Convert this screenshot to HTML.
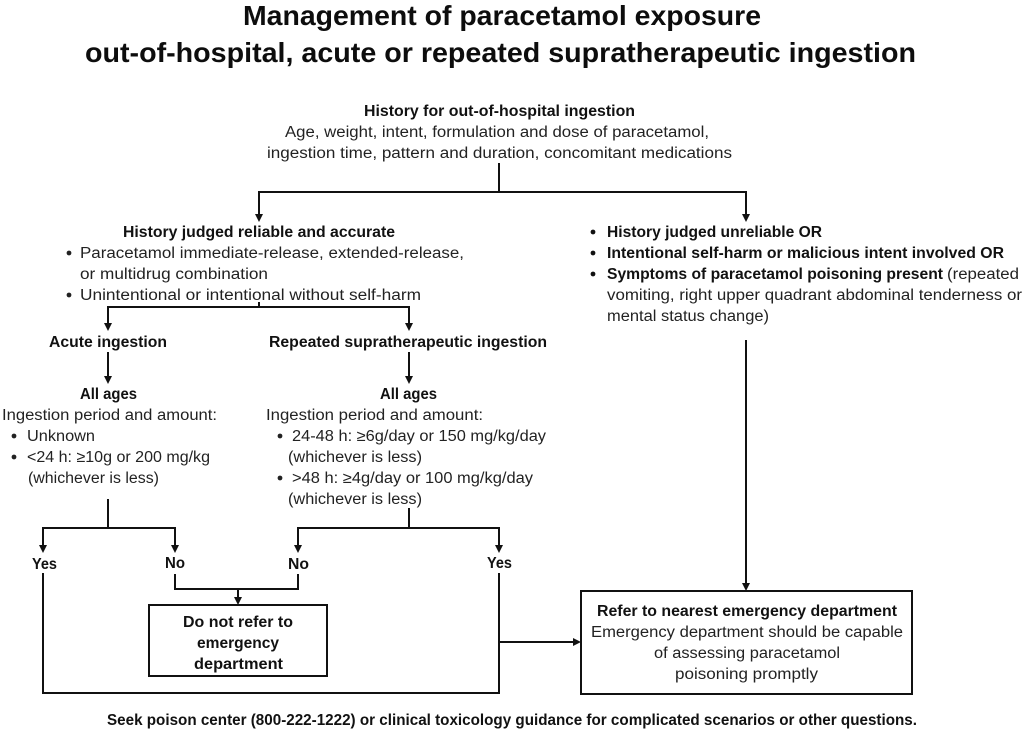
<!DOCTYPE html>
<html>
<head>
<meta charset="utf-8">
<style>
  html,body{margin:0;padding:0;background:#fff;}
  svg{display:block;}
  text{font-family:"Liberation Sans",Arial,sans-serif;fill:#161616;}
  .t{font-size:28px;font-weight:bold;fill:#0d0d0d;}
  .r{font-size:15.5px;fill:#222;}
  .bb{font-size:15.5px;font-weight:bold;fill:#111;}
</style>
</head>
<body>
<svg width="1024" height="732" viewBox="0 0 1024 732" xmlns="http://www.w3.org/2000/svg">
  <rect width="1024" height="732" fill="#fff"/>

  <!-- Title -->
  <text class="t" x="243" y="25" textLength="518" lengthAdjust="spacingAndGlyphs">Management of paracetamol exposure</text>
  <text class="t" x="85" y="62" textLength="831" lengthAdjust="spacingAndGlyphs">out-of-hospital, acute or repeated supratherapeutic ingestion</text>

  <!-- Top history -->
  <text class="bb" x="364" y="116" textLength="271" lengthAdjust="spacingAndGlyphs">History for out-of-hospital ingestion</text>
  <text class="r" x="285" y="137" textLength="424" lengthAdjust="spacingAndGlyphs">Age, weight, intent, formulation and dose of paracetamol,</text>
  <text class="r" x="267" y="158" textLength="465" lengthAdjust="spacingAndGlyphs">ingestion time, pattern and duration, concomitant medications</text>

  <!-- Connectors -->
  <g stroke="#111" stroke-width="2" fill="none" stroke-linecap="square">
    <path d="M499 164 V192 M259 192 H746 M259 192 V215 M746 192 V215"/>
    <path d="M259 303 V307 M108 307 H409 M108 307 V324 M409 307 V324"/>
    <path d="M108 353 V376 M409 353 V376"/>
    <path d="M108 500 V528 M43 528 H175 M43 528 V546 M175 528 V546"/>
    <path d="M409 509 V528 M298 528 H499 M298 528 V546 M499 528 V546"/>
    <path d="M43 574 V693 H499 V574"/>
    <path d="M499 642 H574"/>
    <path d="M175 575 V589 H298 V575 M238 589 V598"/>
    <path d="M746 341 V584"/>
  </g>
  <g fill="#111">
    <polygon points="259,222 255,214 263,214"/>
    <polygon points="746,222 742,214 750,214"/>
    <polygon points="108,331 104,323 112,323"/>
    <polygon points="409,331 405,323 413,323"/>
    <polygon points="108,384 104,376 112,376"/>
    <polygon points="409,384 405,376 413,376"/>
    <polygon points="43,553 39,545 47,545"/>
    <polygon points="175,553 171,545 179,545"/>
    <polygon points="298,553 294,545 302,545"/>
    <polygon points="499,553 495,545 503,545"/>
    <polygon points="238,605 234,597 242,597"/>
    <polygon points="581,642 573,638 573,646"/>
    <polygon points="746,591 742,583 750,583"/>
  </g>

  <!-- Left reliable block -->
  <text class="bb" x="123" y="237" textLength="272" lengthAdjust="spacingAndGlyphs">History judged reliable and accurate</text>
  <circle cx="69" cy="253" r="2.4" fill="#222"/>
  <text class="r" x="80" y="258" textLength="384" lengthAdjust="spacingAndGlyphs">Paracetamol  immediate-release,  extended-release,</text>
  <text class="r" x="80" y="279" textLength="188" lengthAdjust="spacingAndGlyphs">or multidrug combination</text>
  <circle cx="69" cy="295" r="2.4" fill="#222"/>
  <text class="r" x="80" y="300" textLength="341" lengthAdjust="spacingAndGlyphs">Unintentional or intentional without self-harm</text>

  <!-- Right unreliable block -->
  <circle cx="593" cy="232" r="2.4" fill="#111"/>
  <text class="bb" x="607" y="237" textLength="215" lengthAdjust="spacingAndGlyphs">History judged unreliable OR</text>
  <circle cx="593" cy="253" r="2.4" fill="#111"/>
  <text class="bb" x="607" y="258" textLength="397" lengthAdjust="spacingAndGlyphs">Intentional self-harm or malicious intent involved OR</text>
  <circle cx="593" cy="274" r="2.4" fill="#111"/>
  <text class="bb" x="607" y="279" textLength="336" lengthAdjust="spacingAndGlyphs">Symptoms of paracetamol poisoning present</text>
  <text class="r" x="947" y="279" textLength="72" lengthAdjust="spacingAndGlyphs">(repeated</text>
  <text class="r" x="607" y="300" textLength="415" lengthAdjust="spacingAndGlyphs">vomiting, right upper quadrant abdominal tenderness or</text>
  <text class="r" x="607" y="321" textLength="162" lengthAdjust="spacingAndGlyphs">mental status change)</text>

  <!-- Acute / Repeated -->
  <text class="bb" x="49" y="347" textLength="118" lengthAdjust="spacingAndGlyphs">Acute ingestion</text>
  <text class="bb" x="269" y="347" textLength="278" lengthAdjust="spacingAndGlyphs">Repeated supratherapeutic ingestion</text>

  <text class="bb" x="80" y="399" textLength="57" lengthAdjust="spacingAndGlyphs">All ages</text>
  <text class="r" x="2" y="420" textLength="215" lengthAdjust="spacingAndGlyphs">Ingestion period and amount:</text>
  <circle cx="14" cy="436" r="2.4" fill="#222"/>
  <text class="r" x="27" y="441" textLength="68" lengthAdjust="spacingAndGlyphs">Unknown</text>
  <circle cx="14" cy="457" r="2.4" fill="#222"/>
  <text class="r" x="27" y="462" textLength="183" lengthAdjust="spacingAndGlyphs">&lt;24 h: ≥10g or 200 mg/kg</text>
  <text class="r" x="28" y="483" textLength="131" lengthAdjust="spacingAndGlyphs">(whichever is less)</text>

  <text class="bb" x="380" y="399" textLength="57" lengthAdjust="spacingAndGlyphs">All ages</text>
  <text class="r" x="266" y="420" textLength="217" lengthAdjust="spacingAndGlyphs">Ingestion period and amount:</text>
  <circle cx="280" cy="436" r="2.4" fill="#222"/>
  <text class="r" x="292" y="441" textLength="254" lengthAdjust="spacingAndGlyphs">24-48 h: ≥6g/day or 150 mg/kg/day</text>
  <text class="r" x="288" y="462" textLength="134" lengthAdjust="spacingAndGlyphs">(whichever is less)</text>
  <circle cx="280" cy="478" r="2.4" fill="#222"/>
  <text class="r" x="292" y="483" textLength="241" lengthAdjust="spacingAndGlyphs">&gt;48 h: ≥4g/day or 100 mg/kg/day</text>
  <text class="r" x="288" y="504" textLength="134" lengthAdjust="spacingAndGlyphs">(whichever is less)</text>

  <!-- Yes / No -->
  <text class="bb" x="32" y="569" textLength="25" lengthAdjust="spacingAndGlyphs">Yes</text>
  <text class="bb" x="165" y="568" textLength="20" lengthAdjust="spacingAndGlyphs">No</text>
  <text class="bb" x="288" y="569" textLength="21" lengthAdjust="spacingAndGlyphs">No</text>
  <text class="bb" x="487" y="568" textLength="25" lengthAdjust="spacingAndGlyphs">Yes</text>

  <!-- Do not refer box -->
  <rect x="149" y="605" width="178" height="71" fill="none" stroke="#111" stroke-width="2"/>
  <text class="bb" x="183" y="627" textLength="110" lengthAdjust="spacingAndGlyphs">Do not refer to</text>
  <text class="bb" x="197" y="648" textLength="82" lengthAdjust="spacingAndGlyphs">emergency</text>
  <text class="bb" x="194" y="669" textLength="89" lengthAdjust="spacingAndGlyphs">department</text>

  <!-- Refer box -->
  <rect x="581" y="591" width="331" height="103" fill="none" stroke="#111" stroke-width="2"/>
  <text class="bb" x="597" y="616" textLength="300" lengthAdjust="spacingAndGlyphs">Refer to nearest emergency department</text>
  <text class="r" x="591" y="637" textLength="312" lengthAdjust="spacingAndGlyphs">Emergency department should be capable</text>
  <text class="r" x="654" y="658" textLength="186" lengthAdjust="spacingAndGlyphs">of assessing paracetamol</text>
  <text class="r" x="675" y="679" textLength="143" lengthAdjust="spacingAndGlyphs">poisoning promptly</text>

  <!-- Footer -->
  <text class="bb" x="107" y="725" textLength="810" lengthAdjust="spacingAndGlyphs">Seek poison center (800-222-1222) or clinical toxicology guidance for complicated scenarios or other questions.</text>
</svg>
</body>
</html>
